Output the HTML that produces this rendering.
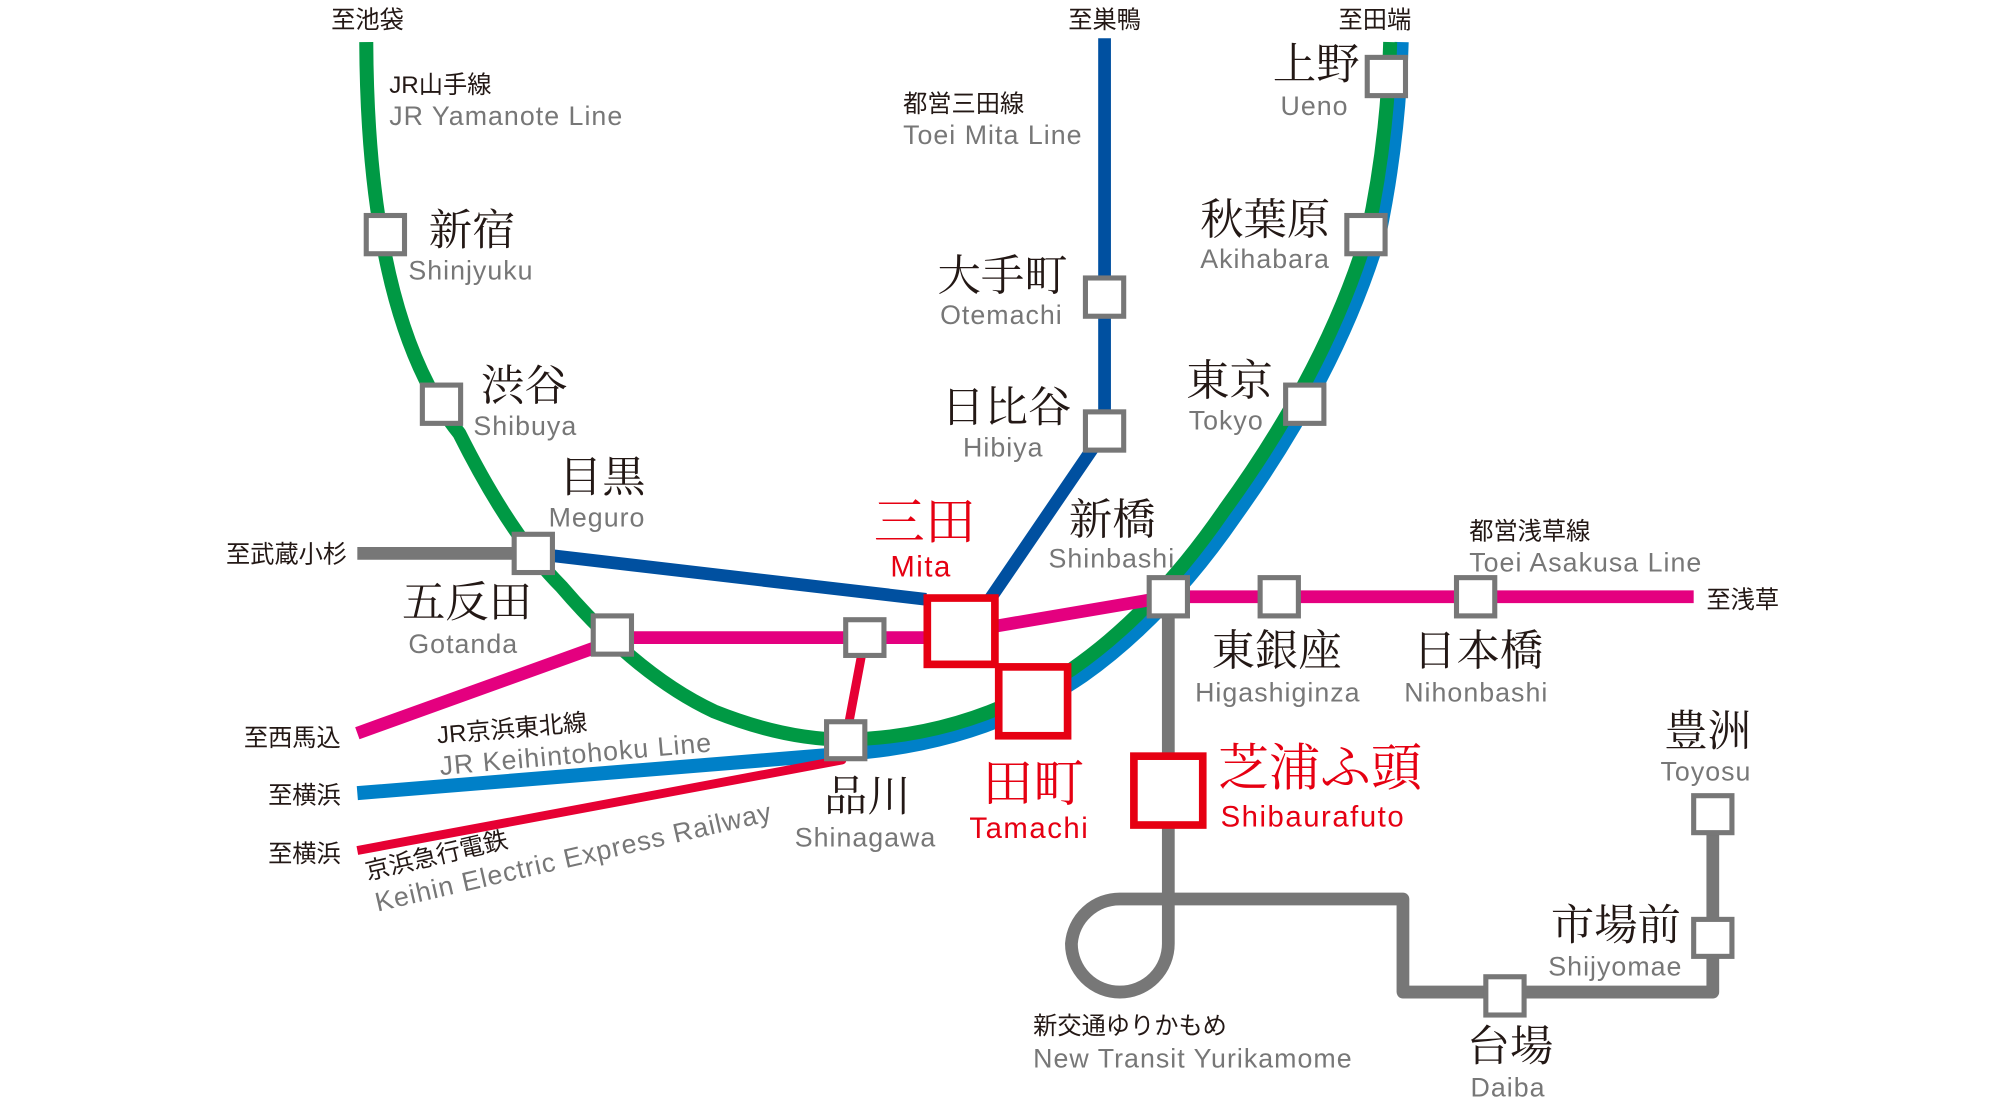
<!DOCTYPE html>
<html><head><meta charset="utf-8"><style>
html,body{margin:0;padding:0;background:#fff;}
svg{display:block;}
.j{font-family:"Liberation Serif","Noto Serif CJK SC",serif;fill:#231815;font-size:34px;}
.r{font-family:"Liberation Sans",sans-serif;fill:#777;font-size:21px;letter-spacing:0.8px;}
.s{font-family:"Liberation Sans","Noto Sans CJK JP",sans-serif;fill:#231815;font-size:19px;}
.red{fill:#e60012;}
.rr{font-size:23px;letter-spacing:1.2px;}
.box{fill:#fff;stroke:#777;stroke-width:4;}
.rbox{fill:#fff;stroke:#e60012;stroke-width:6;}
</style></head><body>
<svg width="2000" height="1103" viewBox="0 0 1568 865" xmlns="http://www.w3.org/2000/svg">
<g fill="none" stroke-linejoin="round">
<line x1="280" y1="434" x2="418" y2="434" stroke="#777" stroke-width="10"/>
<path d="M916,468 L916,740 A38,38 0 0 1 840,740 A38,38 0 0 1 878,705 L1100,705 L1100,778 L1343,778 L1343,638" stroke="#777" stroke-width="10"/>
<path d="M1099,33 Q1097,110 1081,186 Q1049,292 969,404 Q914,484 849,530 Q770,584 663,591 L280,622" stroke="#0080c8" stroke-width="11"/>
<path d="M287,33 Q288,250 360,340 Q400,420 440,460 Q500,530 560,558 Q615,580 663,580 Q760,578 840,525 Q905,480 960,400 Q1040,290 1072,184 Q1088,110 1090,33" stroke="#009944" stroke-width="11"/>
<path d="M866,30 L866,338 L776,470" stroke="#0050a0" stroke-width="10"/>
<path d="M418,434 L726,470" stroke="#0050a0" stroke-width="10"/>
<path d="M280,575 L480,503 L480,500 L730,500" stroke="#e4007f" stroke-width="10"/>
<path d="M775,492 L916,468 L1328,468" stroke="#e4007f" stroke-width="10"/>
<path d="M280,667 L660,596 L678,500" stroke="#e60033" stroke-width="7"/>
</g>
<g class="box">
<rect x="287" y="169" width="30" height="30"/>
<rect x="331" y="302" width="30" height="30"/>
<rect x="403" y="419" width="30" height="30"/>
<rect x="465" y="483" width="30" height="30"/>
<rect x="663" y="486" width="30" height="28"/>
<rect x="648" y="566" width="30" height="29"/>
<rect x="851" y="218" width="30" height="30"/>
<rect x="851" y="323" width="30" height="30"/>
<rect x="901" y="453" width="30" height="30"/>
<rect x="988" y="453" width="30" height="30"/>
<rect x="1142" y="453" width="30" height="30"/>
<rect x="1008" y="302" width="30" height="30"/>
<rect x="1056" y="169" width="30" height="30"/>
<rect x="1072" y="45" width="30" height="30"/>
<rect x="1328" y="624" width="30" height="29"/>
<rect x="1328" y="721" width="30" height="29"/>
<rect x="1165" y="766" width="30" height="30"/>
</g>
<g class="rbox">
<rect x="727" y="469" width="53" height="52"/>
<rect x="783" y="523" width="54" height="54"/>
<rect x="889" y="593" width="54" height="54"/>
</g>
<text class="s" x="288" y="22" text-anchor="middle">至池袋</text>
<text class="s" x="866" y="22" text-anchor="middle">至巣鴨</text>
<text class="s" x="1078" y="22" text-anchor="middle">至田端</text>
<text class="s" x="305" y="73">JR山手線</text>
<text class="r" x="305" y="98">JR Yamanote Line</text>
<text class="j" x="336" y="192">新宿</text><text class="r" x="320" y="219">Shinjyuku</text>
<text class="j" x="377" y="314">渋谷</text><text class="r" x="371" y="341">Shibuya</text>
<text class="j" x="438" y="386">目黒</text><text class="r" x="430" y="413">Meguro</text>
<text class="s" x="272" y="441" text-anchor="end">至武蔵小杉</text>
<text class="j" x="315" y="484">五反田</text><text class="r" x="320" y="512">Gotanda</text>
<text class="s" x="267" y="585" text-anchor="end">至西馬込</text>
<text class="s" x="267" y="630" text-anchor="end">至横浜</text>
<text class="s" x="267" y="676" text-anchor="end">至横浜</text>
<g transform="rotate(-5 343 583)"><text class="s" x="343" y="583">JR京浜東北線</text><text class="r" x="343" y="608">JR Keihintohoku Line</text></g>
<g transform="rotate(-13 288 690)"><text class="s" x="288" y="690">京浜急行電鉄</text><text class="r" x="290" y="716">Keihin Electric Express Railway</text></g>
<text class="j" x="646" y="636">品川</text><text class="r" x="623" y="664">Shinagawa</text>
<text class="j red" x="685" y="423" style="font-size:40px">三田</text><text class="r red rr" x="698" y="452">Mita</text>
<text class="j red" x="770" y="628" style="font-size:40px">田町</text><text class="r red rr" x="760" y="657">Tamachi</text>
<text class="j red" x="955" y="616" style="font-size:40px">芝浦ふ頭</text><text class="r red rr" x="957" y="648">Shibaurafuto</text>
<text class="j" x="838" y="419">新橋</text><text class="r" x="822" y="445">Shinbashi</text>
<text class="s" x="708" y="88">都営三田線</text><text class="r" x="708" y="113">Toei Mita Line</text>
<text class="j" x="735" y="228">大手町</text><text class="r" x="737" y="254">Otemachi</text>
<text class="j" x="738" y="331">日比谷</text><text class="r" x="755" y="358">Hibiya</text>
<text class="j" x="998" y="62">上野</text><text class="r" x="1004" y="90">Ueno</text>
<text class="j" x="941" y="184">秋葉原</text><text class="r" x="941" y="210">Akihabara</text>
<text class="j" x="930" y="310">東京</text><text class="r" x="932" y="337">Tokyo</text>
<text class="s" x="1152" y="423">都営浅草線</text><text class="r" x="1152" y="448">Toei Asakusa Line</text>
<text class="s" x="1338" y="477">至浅草</text>
<text class="j" x="950" y="522">東銀座</text><text class="r" x="937" y="550">Higashiginza</text>
<text class="j" x="1108" y="522">日本橋</text><text class="r" x="1101" y="550">Nihonbashi</text>
<text class="j" x="1305" y="585">豊洲</text><text class="r" x="1302" y="612">Toyosu</text>
<text class="j" x="1216" y="737">市場前</text><text class="r" x="1214" y="765">Shijyomae</text>
<text class="j" x="1150" y="832">台場</text><text class="r" x="1153" y="860">Daiba</text>
<text class="s" x="810" y="811">新交通ゆりかもめ</text><text class="r" x="810" y="837">New Transit Yurikamome</text>
</svg>
</body></html>
